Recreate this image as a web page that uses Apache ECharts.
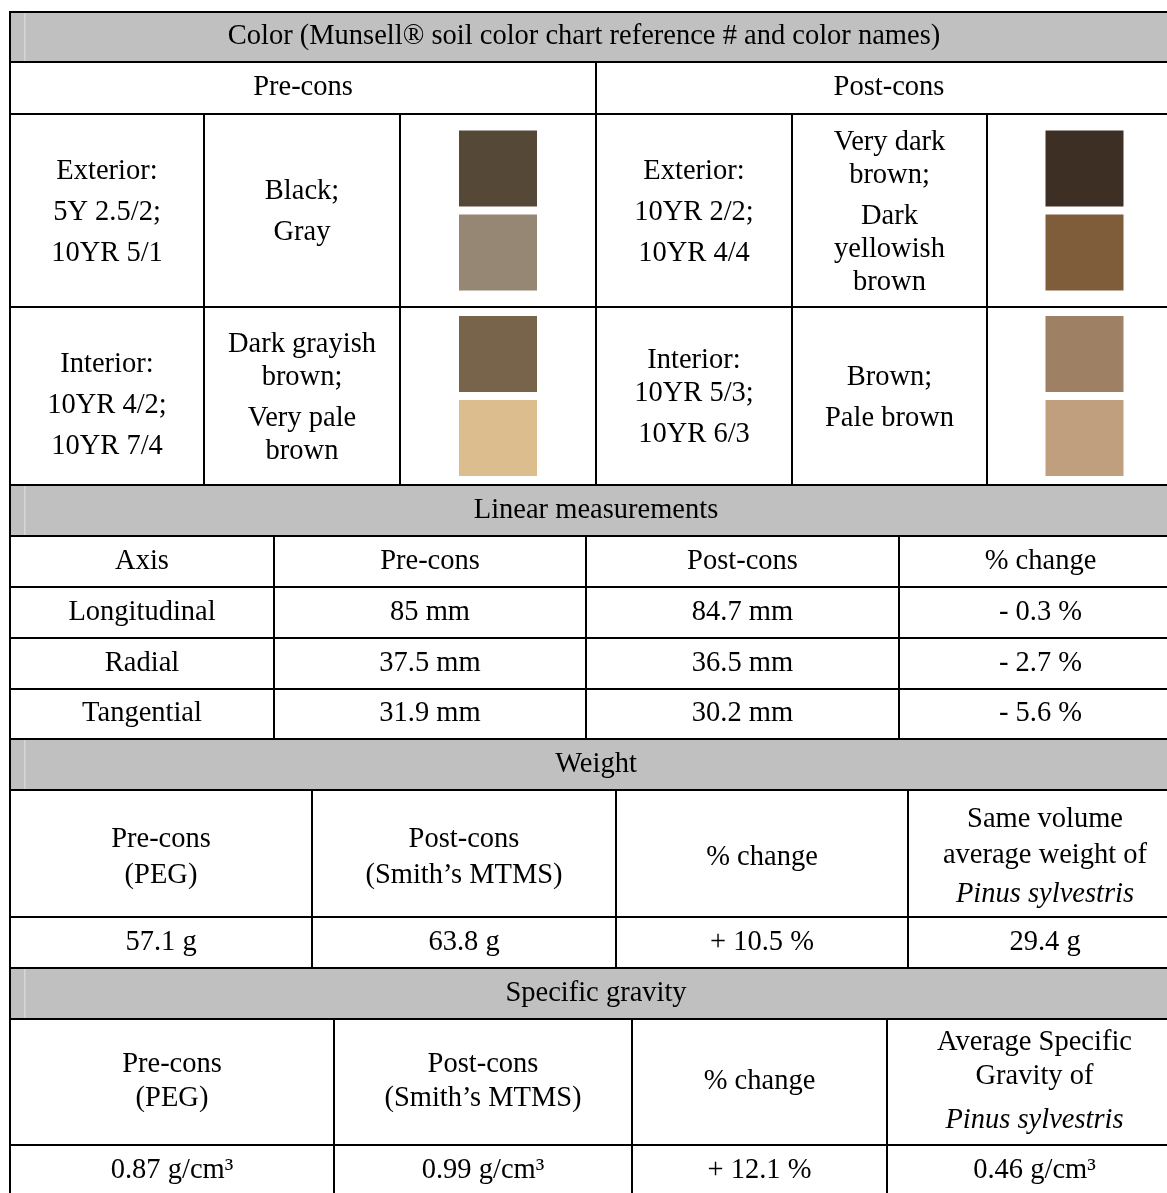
<!DOCTYPE html>
<html>
<head>
<meta charset="utf-8">
<script src="https://cdn.jsdelivr.net/npm/echarts@6/dist/echarts.min.js"></script>
<style>
  html, body { margin: 0; padding: 0; background: #fff; }
  #chart { width: 1167px; height: 1193px; }
</style>
</head>
<body>
<div id="chart"></div>
<script>
// table contents ('\n' = wrapped line, '\n\n' = new paragraph)
const colorTitle = 'Color (Munsell® soil color chart reference # and color names)'
const colorStages = ['Pre-cons', 'Post-cons']
const colorCodes = [
  ['Exterior:\n\n5Y 2.5/2;\n\n10YR 5/1', 'Exterior:\n\n10YR 2/2;\n\n10YR 4/4'],
  ['Interior:\n\n10YR 4/2;\n\n10YR 7/4', 'Interior:\n10YR 5/3;\n\n10YR 6/3'],
]
const colorNames = [
  ['Black;\n\nGray', 'Very dark\nbrown;\n\nDark\nyellowish\nbrown'],
  ['Dark grayish\nbrown;\n\nVery pale\nbrown', 'Brown;\n\nPale brown'],
]
const swatchColors = [
  [['#554837', '#968674'], ['#3e2f25', '#7f5d3a']],
  [['#78644b', '#dcbe8e'], ['#9e8165', '#c09f7e']],
]

const linearTitle = 'Linear measurements'
const linearHead = ['Axis', 'Pre-cons', 'Post-cons', '% change']
const linearAxis = ['Longitudinal', 'Radial', 'Tangential']
const linearPre = ['85 mm', '37.5 mm', '31.9 mm']
const linearPost = ['84.7 mm', '36.5 mm', '30.2 mm']
const linearChange = ['- 0.3 %', '- 2.7 %', '- 5.6 %']

const weightTitle = 'Weight'
const weightHead = ['Pre-cons\n(PEG)', 'Post-cons\n(Smith’s MTMS)', '% change', 'Same volume\naverage weight of\n\n{i|Pinus sylvestris}']
const weightValues = ['57.1 g', '63.8 g', '+ 10.5 %', '29.4 g']

const gravityTitle = 'Specific gravity'
const gravityHead = ['Pre-cons\n(PEG)', 'Post-cons\n(Smith’s MTMS)', '% change', 'Average Specific\nGravity of\n\n{i|Pinus sylvestris}']
const gravityValues = ['0.87 g/cm³', '0.99 g/cm³', '+ 12.1 %', '0.46 g/cm³']

// layout (table units)
const colX = {
  color: [10, 204, 400, 596, 792, 987, 1182],
  linear: [10, 274, 586, 899, 1182],
  weight: [10, 312, 616, 908, 1182],
  gravity: [10, 334, 632, 887, 1182],
}
const rowY = {
  color: [12, 62, 114, 307, 485],
  linear: [485, 536, 587, 638, 689, 739],
  weight: [739, 790, 917, 968],
  gravity: [968, 1019, 1145, 1196],
}
const spacing = { color: [33, 8], linear: [33, 8], weight: [36, 3], gravity: [34, 10] }
// small text nudges [dx, dy] where the source cell isn't centred exactly
const colorTitleShift = [-12, 0]
const colorCodeShift = [[[0, 2], [0, 2]], [[0, 10], [0, 2]]]
const weightHeadShift = [0, 4]

const SERIF = '"Liberation Serif", "Times New Roman", serif'
const FS = 28.5
const HEAD_FILL = '#c0c0c0'

const cells = []
function cell(x0, x1, y0, y1, text, extra) {
  cells.push(Object.assign({ x0, x1, y0, y1, text, head: false, swatch: null, lh: 33, gap: 8, shift: [0, 0] }, extra))
}

// colour block
const cx = colX.color, cy = rowY.color
const cs = { lh: spacing.color[0], gap: spacing.color[1] }
cell(cx[0], cx[6], cy[0], cy[1], colorTitle, { head: true, shift: colorTitleShift })
colorStages.forEach((s, i) => cell(cx[i * 3], cx[i * 3 + 3], cy[1], cy[2], s, cs))
colorCodes.forEach((row, r) => row.forEach((code, i) => {
  const c = i * 3
  cell(cx[c], cx[c + 1], cy[r + 2], cy[r + 3], code, Object.assign({ shift: colorCodeShift[r][i] }, cs))
  cell(cx[c + 1], cx[c + 2], cy[r + 2], cy[r + 3], colorNames[r][i], Object.assign({ shift: [0, 2] }, cs))
  cell(cx[c + 2], cx[c + 3], cy[r + 2], cy[r + 3], '', { swatch: swatchColors[r][i] })
}))

function block(key, title, head, rows, headShift) {
  const x = colX[key], y = rowY[key]
  const sp = { lh: spacing[key][0], gap: spacing[key][1] }
  cell(x[0], x[x.length - 1], y[0], y[1], title, { head: true })
  head.forEach((t, i) => cell(x[i], x[i + 1], y[1], y[2], t, Object.assign({ shift: headShift || [0, 0] }, sp)))
  rows.forEach((vals, r) => vals.forEach((t, i) => cell(x[i], x[i + 1], y[r + 2], y[r + 3], t, sp)))
}
block('linear', linearTitle, linearHead, linearAxis.map((a, i) => [a, linearPre[i], linearPost[i], linearChange[i]]))
block('weight', weightTitle, weightHead, [weightValues], weightHeadShift)
block('gravity', gravityTitle, gravityHead, [gravityValues])

function renderItem(params, api) {
  const c = cells[params.dataIndex]
  const p0 = api.coord([api.value(0), api.value(1)])
  const p1 = api.coord([api.value(2), api.value(3)])
  const w = p1[0] - p0[0], h = p1[1] - p0[1]
  const children = [{
    type: 'rect',
    shape: { x: p0[0], y: p0[1], width: w, height: h },
    style: { fill: c.head ? HEAD_FILL : '#ffffff', stroke: '#000', lineWidth: 2 },
  }]
  if (c.head) {
    // faint light edge seen inside the grey header bands
    children.push({ type: 'rect', shape: { x: p0[0] + 14, y: p0[1] + 1, width: 1.5, height: h - 2 }, style: { fill: '#d6d6d6' } })
  }
  if (c.swatch) {
    const sw = 78, sh = 76, gap = 8
    const left = (p0[0] + p1[0]) / 2 - sw / 2
    const top = (p0[1] + p1[1]) / 2 - (sh * 2 + gap) / 2
    c.swatch.forEach((col, k) => children.push({
      type: 'rect',
      shape: { x: left, y: top + k * (sh + gap), width: sw, height: sh },
      style: { fill: col },
    }))
  }
  if (c.text) {
    children.push({
      type: 'text',
      style: {
        x: (p0[0] + p1[0]) / 2 + c.shift[0],
        y: (p0[1] + p1[1]) / 2 + c.shift[1],
        text: c.text.replace(/\n\n/g, '\n{g| }\n'),
        align: 'center',
        verticalAlign: 'middle',
        fontFamily: SERIF,
        fontSize: FS,
        lineHeight: c.lh,
        fill: '#000',
        rich: {
          i: { fontStyle: 'italic', fontFamily: SERIF, fontSize: FS, lineHeight: c.lh, fill: '#000' },
          g: { fontSize: 1, lineHeight: c.gap },
        },
      },
    })
  }
  return { type: 'group', children }
}

const chart = echarts.init(document.getElementById('chart'), null, { renderer: 'canvas' })
chart.setOption({
  animation: false,
  grid: { left: 0, right: 0, top: 0, bottom: 0 },
  xAxis: { type: 'value', min: 0, max: 1167, show: false },
  yAxis: { type: 'value', min: 0, max: 1193, inverse: true, show: false },
  series: [{
    type: 'custom',
    clip: false,
    renderItem,
    encode: { x: [0, 2], y: [1, 3] },
    data: cells.map(c => [c.x0, c.y0, c.x1, c.y1]),
  }],
})
</script>
</body>
</html>
